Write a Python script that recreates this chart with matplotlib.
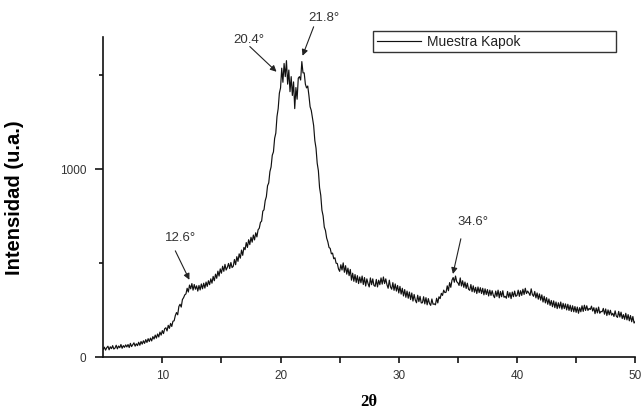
import numpy as np
import matplotlib
matplotlib.use('Agg')
import matplotlib.pyplot as plt

# 2theta grid 5.0 .. 50.0 every 0.1 deg, intensities
two_theta = np.round(np.arange(5.0, 50.05, 0.1), 1)
intensity = [
    40, 52, 36, 49, 57, 38, 54, 44, 60, 42,              # 5
    47, 62, 43, 58, 49, 66, 46, 60, 51, 64,              # 6
    53, 66, 50, 72, 55, 65, 75, 57, 70, 60,              # 7
    78, 62, 82, 68, 86, 72, 92, 77, 97, 82,              # 8
    100, 85, 108, 95, 116, 100, 122, 106, 132, 116,      # 9
    140, 124, 150, 155, 138, 168, 152, 178, 162, 190,    # 10
    192, 220, 236, 224, 268, 280, 265, 305, 315, 330,    # 11
    335, 365, 345, 382, 362, 390, 355, 385, 360, 378,    # 12
    350, 380, 356, 388, 362, 392, 366, 398, 375, 405,    # 13
    384, 415, 392, 428, 405, 440, 418, 456, 430, 468,    # 14
    445, 482, 455, 492, 462, 476, 497, 470, 502, 475,    # 15
    482, 518, 490, 533, 508, 548, 525, 568, 540, 582,    # 16
    570, 608, 582, 623, 597, 636, 610, 648, 622, 660,    # 17
    638, 676, 684, 715, 722, 775, 782, 830, 852, 910,    # 18
    925, 985, 1010, 1072, 1090, 1162, 1190, 1278, 1320, 1402,  # 19
    1430, 1535, 1460, 1560, 1490, 1575, 1450, 1525, 1410, 1490,  # 20
    1390, 1462, 1320, 1432, 1370, 1482, 1490, 1472, 1570, 1510,  # 21
    1510, 1450, 1430, 1440, 1390, 1330, 1310, 1270, 1230, 1150,  # 22
    1110, 1030, 990, 900, 860, 780, 750, 690, 672, 632,  # 23
    612, 582, 577, 548, 552, 522, 527, 498, 497, 468,    # 24
    455, 490, 462, 500, 450, 485, 440, 472, 432, 465,    # 25
    408, 445, 402, 438, 396, 432, 390, 425, 394, 430,    # 26
    385, 422, 377, 415, 390, 372, 420, 384, 415, 380,    # 27
    375, 412, 372, 408, 384, 420, 387, 425, 390, 415,    # 28
    384, 365, 408, 372, 360, 395, 354, 388, 350, 380,    # 29
    340, 375, 334, 365, 324, 358, 317, 350, 312, 345,    # 30
    305, 340, 297, 332, 302, 288, 328, 294, 322, 287,    # 31
    288, 320, 282, 315, 277, 310, 284, 274, 308, 280,    # 32
    282, 277, 312, 287, 320, 310, 338, 327, 355, 342,    # 33
    344, 378, 352, 395, 370, 408, 422, 397, 430, 400,    # 34
    394, 380, 420, 377, 405, 370, 398, 364, 392, 360,    # 35
    354, 385, 347, 378, 344, 370, 337, 372, 342, 368,    # 36
    337, 365, 330, 362, 332, 358, 324, 355, 327, 352,    # 37
    327, 315, 350, 322, 355, 314, 348, 320, 352, 317,    # 38
    322, 312, 348, 317, 342, 310, 345, 320, 350, 322,    # 39
    327, 355, 322, 352, 327, 360, 332, 365, 337, 350,    # 40
    340, 327, 362, 332, 322, 348, 314, 340, 307, 335,    # 41
    302, 330, 292, 322, 287, 315, 280, 308, 274, 300,    # 42
    267, 298, 262, 292, 257, 288, 260, 292, 254, 285,    # 43
    257, 282, 250, 280, 247, 275, 242, 272, 240, 268,    # 44
    237, 265, 232, 262, 240, 272, 242, 275, 247, 272,    # 45
    247, 258, 252, 270, 244, 262, 230, 260, 234, 265,    # 46
    232, 242, 240, 258, 227, 255, 220, 250, 224, 248,    # 47
    222, 232, 215, 245, 217, 210, 242, 212, 238, 204,    # 48
    225, 200, 232, 197, 225, 192, 220, 187, 215, 180,    # 49
    188,                                                 # 50
]

# peak labels: text, arrow head (peak), arrow tail, text position
peak_labels = ['20.4°', '21.8°', '12.6°', '34.6°']
peak_xy = [(19.66, 1516), (21.86, 1601), (12.29, 410), (34.58, 441)]
tail_xy = [(17.4, 1650), (22.8, 1755), (11.1, 564), (35.25, 628)]
text_xy = [(17.3, 1691), (23.7, 1809), (11.5, 638), (36.27, 723)]

plt.rcParams['font.family'] = ['Liberation Sans', 'DejaVu Sans']

fig = plt.figure(figsize=(6.41, 4.10), dpi=100)
ax = fig.add_axes([0.161, 0.127, 0.830, 0.780])

ax.plot(two_theta, intensity, color='#111111', lw=0.85, label='Muestra Kapok')

for lab, head, tail, txt in zip(peak_labels, peak_xy, tail_xy, text_xy):
    ax.annotate('', xy=head, xytext=tail,
                arrowprops=dict(arrowstyle='-|>', color='#222222', lw=0.8,
                                mutation_scale=9, shrinkA=0, shrinkB=0),
                annotation_clip=False)
    ax.text(txt[0], txt[1], lab, ha='center', va='center', fontsize=9.5,
            color='#333333', clip_on=False)

ax.set_xlim(5, 50)
ax.set_ylim(0, 1700)
ax.set_xticks([10, 20, 30, 40, 50])
ax.set_xticks([15, 25, 35, 45], minor=True)
ax.set_yticks([0, 1000])
ax.set_yticks([500, 1500], minor=True)

for s in ['top', 'right']:
    ax.spines[s].set_visible(False)
for s in ['left', 'bottom']:
    ax.spines[s].set_linewidth(1.2)
    ax.spines[s].set_color('#111111')

ax.tick_params(axis='x', which='both', direction='out', length=4, width=1.1,
               labelsize=8.5, labelcolor='#333333', pad=5)
ax.tick_params(axis='y', which='major', direction='out', length=6, width=1.1,
               labelsize=8.5, labelcolor='#333333', pad=6)
ax.tick_params(axis='y', which='minor', direction='out', length=3, width=1.1)

ax.set_xlabel('2θ', fontsize=12, fontweight='bold',
              family=['Liberation Serif', 'DejaVu Serif'])
ax.xaxis.set_label_coords(0.5, -0.114)
ax.set_ylabel('Intensidad (u.a.)', fontsize=14.5, fontweight='bold')
ax.yaxis.set_label_coords(-0.148, 0.5)

leg = ax.legend(loc='lower left', bbox_to_anchor=(0.582, 0.871, 0.379, 0.051),
                bbox_transform=fig.transFigure, mode='expand', borderaxespad=0,
                fontsize=10, handlelength=3.2, handletextpad=0.45,
                borderpad=0.25, fancybox=False, framealpha=1)
leg.get_frame().set_edgecolor('#333333')
leg.get_frame().set_linewidth(1.0)
for t in leg.get_texts():
    t.set_color('#222222')

fig.savefig('out.png', dpi=100)
